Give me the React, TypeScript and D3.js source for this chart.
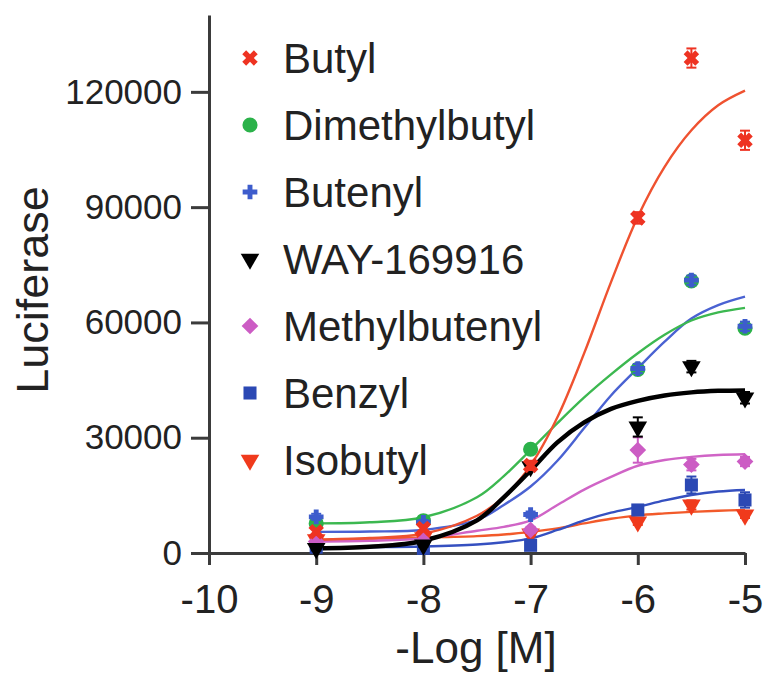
import React, { useRef, useEffect } from "react";
import * as d3 from "d3";

// concentrations (-log M) where the wells were measured
const doseX = [-9, -8, -7, -6, -5.5, -5];
const curveX = [-9, -8.5, -8, -7.5, -7.25, -7, -6.75, -6.5, -6.25, -6, -5.75, -5.5, -5.25, -5];

const seriesNames = ["Butyl", "Dimethylbutyl", "Butenyl", "WAY-169916", "Methylbutenyl", "Benzyl", "Isobutyl"];

const butylPts = [5500, 6400, 22800, 87200, 128800, 107400];
const butylErr = [800, 800, 1200, 1500, 2500, 2500];
const butylFit = [3500, 3900, 5000, 9700, 14600, 22800, 35300, 52000, 70500, 87500, 100500, 110000, 116500, 120300];

const dimethylPts = [7700, 8400, 27000, 47800, 70800, 58500];
const dimethylErr = [600, 600, 1000, 1200, 1200, 1200];
const dimethylFit = [7700, 8000, 9300, 14500, 20000, 26800, 33800, 40500, 46500, 52000, 56800, 60500, 62600, 63800];

const butenylPts = [9400, 8000, 10000, 48000, 71000, 59000];
const butenylErr = [800, 600, 800, 1200, 1200, 1200];
const butenylFit = [5500, 5600, 6000, 8600, 12500, 17300, 24000, 32500, 41000, 48100, 55000, 61000, 64500, 66700];

const wayPts = [1200, 2100, 22500, 32800, 48500, 40400];
const wayErr = [500, 500, 1000, 2500, 1500, 1500];
const wayFit = [1200, 1600, 3200, 8500, 14500, 21500, 28800, 34000, 37500, 39600, 41000, 41800, 42200, 42300];

const methylPts = [3000, 3200, 6000, 26800, 23000, 23800];
const methylErr = [500, 500, 800, 3300, 1500, 1200];
const methylFit = [3000, 3200, 3800, 5800, 6800, 8500, 12500, 16500, 19800, 22700, 24200, 25000, 25500, 25700];

const benzylPts = [1500, 1200, 2000, 11200, 17700, 13800];
const benzylErr = [400, 400, 500, 1200, 2200, 2000];
const benzylFit = [1400, 1500, 1700, 2200, 2800, 3800, 6000, 8500, 10500, 12000, 13700, 15100, 16000, 16400];

const isoPts = [3500, 4000, 5000, 8100, 12500, 9900];
const isoErr = [400, 400, 500, 800, 1200, 800];
const isoFit = [3400, 3700, 4000, 4400, 4800, 5500, 6400, 7700, 8900, 9800, 10300, 10700, 11000, 11200];

const yTicks = [0, 30000, 60000, 90000, 120000];
const xTicks = [-10, -9, -8, -7, -6, -5];

const FONT = '"Liberation Sans", Arial, sans-serif';

const App = () => {
  const chartRef = useRef<SVGSVGElement>(null);

  useEffect(() => {
    const svg = d3.select(chartRef.current);
    svg.selectAll("*").remove();

    const x = d3.scaleLinear().domain([-10, -5]).range([209, 745]);
    const y = d3.scaleLinear().domain([0, 140000]).range([553, 15]);

    const series = [
      { name: seriesNames[0], pts: butylPts, err: butylErr, fit: butylFit, color: "#ee3322", line: "#ef5230", shape: "x" },
      { name: seriesNames[1], pts: dimethylPts, err: dimethylErr, fit: dimethylFit, color: "#2bb24a", line: "#3cb850", shape: "circle" },
      { name: seriesNames[2], pts: butenylPts, err: butenylErr, fit: butenylFit, color: "#3d5ccc", line: "#4a62d2", shape: "plus" },
      { name: seriesNames[3], pts: wayPts, err: wayErr, fit: wayFit, color: "#000000", line: "#000000", shape: "tri" },
      { name: seriesNames[4], pts: methylPts, err: methylErr, fit: methylFit, color: "#cc5cc4", line: "#d064c6", shape: "diamond" },
      { name: seriesNames[5], pts: benzylPts, err: benzylErr, fit: benzylFit, color: "#2b48b4", line: "#3550c0", shape: "square" },
      { name: seriesNames[6], pts: isoPts, err: isoErr, fit: isoFit, color: "#f03a1c", line: "#f25a2a", shape: "tri" },
    ];

    const symbolPath = (shape) => {
      if (shape === "x") return d3.symbol(d3.symbolCross, 150)();
      if (shape === "plus") return d3.symbol(d3.symbolCross, 120)();
      if (shape === "circle") return d3.symbol(d3.symbolCircle, 180)();
      if (shape === "square") return d3.symbol(d3.symbolSquare, 170)();
      if (shape === "diamond") return d3.symbol(d3.symbolSquare, 140)();
      return d3.symbol(d3.symbolTriangle, 150)();
    };
    const symbolRot = (shape) => (shape === "x" || shape === "diamond" ? 45 : shape === "tri" ? 180 : 0);
    const fmt = (d) => String(d);

    // axes
    const yAxis = svg
      .append("g")
      .attr("transform", `translate(${x(-10)},0)`)
      .call(d3.axisLeft(y).tickValues(yTicks).tickSize(18).tickSizeOuter(0).tickPadding(9).tickFormat(fmt));
    const xAxis = svg
      .append("g")
      .attr("transform", `translate(0,${y(0)})`)
      .call(d3.axisBottom(x).tickValues(xTicks).tickSize(12).tickSizeOuter(0).tickPadding(20).tickFormat(fmt));

    [yAxis, xAxis].forEach((a) => {
      a.select(".domain").attr("stroke", "#3b3b3b").attr("stroke-width", 3);
      a.selectAll(".tick line").attr("stroke", "#3b3b3b").attr("stroke-width", 3);
      a.selectAll(".tick text").attr("fill", "#222").style("font-family", FONT);
    });
    yAxis.selectAll(".tick text").style("font-size", "35px");
    xAxis.selectAll(".tick text").style("font-size", "40px");

    svg
      .append("text")
      .attr("transform", `translate(48,290) rotate(-90)`)
      .attr("text-anchor", "middle")
      .attr("fill", "#222")
      .style("font-family", FONT)
      .style("font-size", "45px")
      .text("Luciferase");

    svg
      .append("text")
      .attr("x", 476)
      .attr("y", 663)
      .attr("text-anchor", "middle")
      .attr("fill", "#222")
      .style("font-family", FONT)
      .style("font-size", "44px")
      .text("-Log [M]");

    // fitted curves
    const line = d3
      .line()
      .x((d) => x(d[0]))
      .y((d) => y(d[1]))
      .curve(d3.curveCatmullRom.alpha(0.5));

    const curveOrder = [6, 5, 4, 2, 1, 0, 3];
    curveOrder.forEach((i) => {
      const s = series[i];
      svg
        .append("path")
        .attr("d", line(curveX.map((cx, j) => [cx, s.fit[j]])))
        .attr("fill", "none")
        .attr("stroke", s.line)
        .attr("stroke-width", i === 3 ? 4.5 : 2.4);
    });

    // points + error bars
    const pointOrder = [1, 6, 5, 4, 2, 3, 0];
    pointOrder.forEach((i) => {
      const s = series[i];
      const g = svg.append("g");
      s.pts.forEach((v, j) => {
        const px = x(doseX[j]);
        const top = y(v + s.err[j]);
        const bot = y(v - s.err[j]);
        g.append("line").attr("x1", px).attr("x2", px).attr("y1", top).attr("y2", bot).attr("stroke", s.color).attr("stroke-width", 2);
        [top, bot].forEach((cy) =>
          g.append("line").attr("x1", px - 5).attr("x2", px + 5).attr("y1", cy).attr("y2", cy).attr("stroke", s.color).attr("stroke-width", 2)
        );
        g.append("path")
          .attr("d", symbolPath(s.shape))
          .attr("transform", `translate(${px},${y(v)}) rotate(${symbolRot(s.shape)})`)
          .attr("fill", s.color);
      });
    });

    // legend
    const legend = svg.append("g");
    series.forEach((s, i) => {
      const ly = 58 + i * 67;
      legend
        .append("path")
        .attr("d", symbolPath(s.shape))
        .attr("transform", `translate(250,${ly}) rotate(${symbolRot(s.shape)})`)
        .attr("fill", s.color);
      legend
        .append("text")
        .attr("x", 283)
        .attr("y", ly + 15)
        .attr("fill", "#222")
        .style("font-family", FONT)
        .style("font-size", "42px")
        .text(s.name);
    });
  }, []);

  return (
    <svg
      ref={chartRef}
      width={766}
      height={677}
      style={{ position: "absolute", left: 0, top: 0, background: "#fff" }}
    ></svg>
  );
};

export default App;
